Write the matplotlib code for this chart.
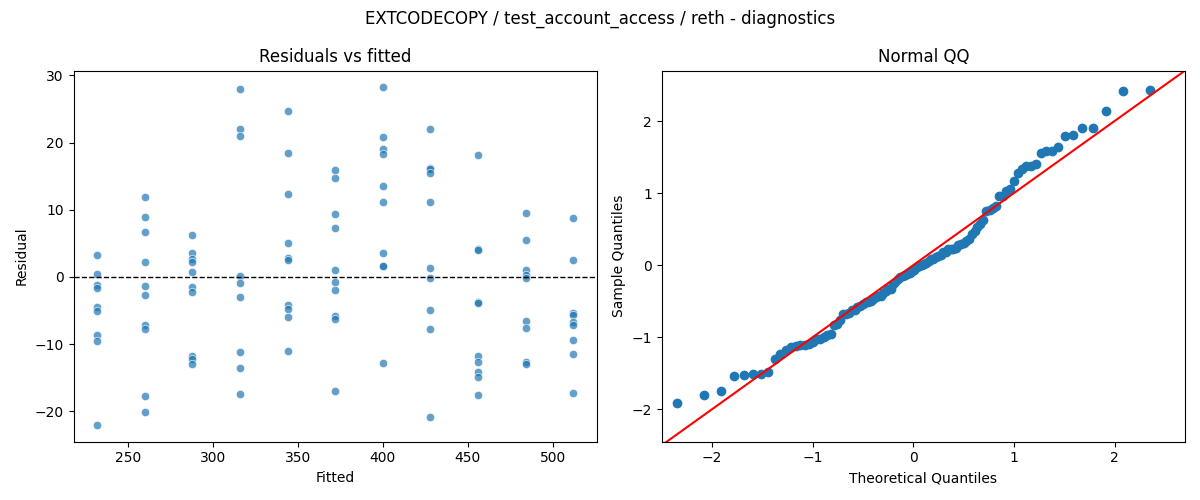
import numpy as np
from statistics import NormalDist
from matplotlib import pyplot as plt

fitted_levels = [232, 260, 288, 316, 344, 372, 400, 428, 456, 484, 512]
resid_groups = [
    [3.3, 0.4, -1.2, -1.6, -4.4, -5.0, -8.7, -9.5, -22.0],
    [11.9, 8.9, 6.7, 2.2, -1.3, -2.7, -7.2, -7.8, -17.7, -20.1],
    [6.2, 3.5, 2.7, 2.2, 0.7, -1.5, -2.2, -11.8, -12.2, -13.0],
    [28.0, 22.0, 21.0, 0.1, -0.9, -3.0, -11.2, -13.6, -17.4],
    [24.7, 18.4, 12.3, 5.0, 2.8, 2.6, -4.1, -4.8, -5.9, -11.0],
    [15.9, 14.8, 9.3, 7.3, 1.1, -0.7, -1.9, -5.8, -6.2, -17.0],
    [28.2, 20.8, 19.0, 18.3, 13.5, 11.1, 3.6, 1.7, 1.6, -12.8],
    [22.0, 16.2, 16.0, 15.4, 11.1, 1.4, -0.1, -4.9, -7.8, -20.8],
    [18.1, 4.2, 4.0, -3.7, -3.8, -11.8, -12.7, -14.1, -14.9, -17.5],
    [9.5, 5.5, 1.0, 0.3, -0.2, -6.5, -7.6, -12.6, -12.9],
    [8.8, 2.6, -5.3, -5.6, -6.7, -7.2, -9.4, -11.4, -17.3],
]

fitted = []
resid = []
for f, grp in zip(fitted_levels, resid_groups):
    for r in grp:
        fitted.append(f)
        resid.append(r)
fitted = np.array(fitted)
resid = np.array(resid)

fig, (ax1, ax2) = plt.subplots(1, 2, figsize=(12, 5), dpi=100)
fig.suptitle('EXTCODECOPY / test_account_access / reth - diagnostics')

ax1.scatter(fitted, resid, s=36, alpha=0.7, color='C0', edgecolor='white', linewidth=0.6)
ax1.axhline(0, color='black', linestyle='--', linewidth=1)
ax1.set_title('Residuals vs fitted')
ax1.set_xlabel('Fitted')
ax1.set_ylabel('Residual')

# normal QQ of standardized residuals
z = np.sort((resid - resid.mean()) / resid.std(ddof=1))
n = len(z)
nd = NormalDist()
theo = np.array([nd.inv_cdf((i + 1) / (n + 1)) for i in range(n)])
ax2.plot(theo, z, 'o', color='C0', markersize=6)
ax2.set_xlim(-2.5, 2.7)
ax2.set_ylim(-2.45, 2.7)
lims = np.array([-3, 3])
ax2.plot(lims, lims, color='red')
ax2.set_title('Normal QQ')
ax2.set_xlabel('Theoretical Quantiles')
ax2.set_ylabel('Sample Quantiles')

plt.tight_layout()
plt.savefig('out.png')
